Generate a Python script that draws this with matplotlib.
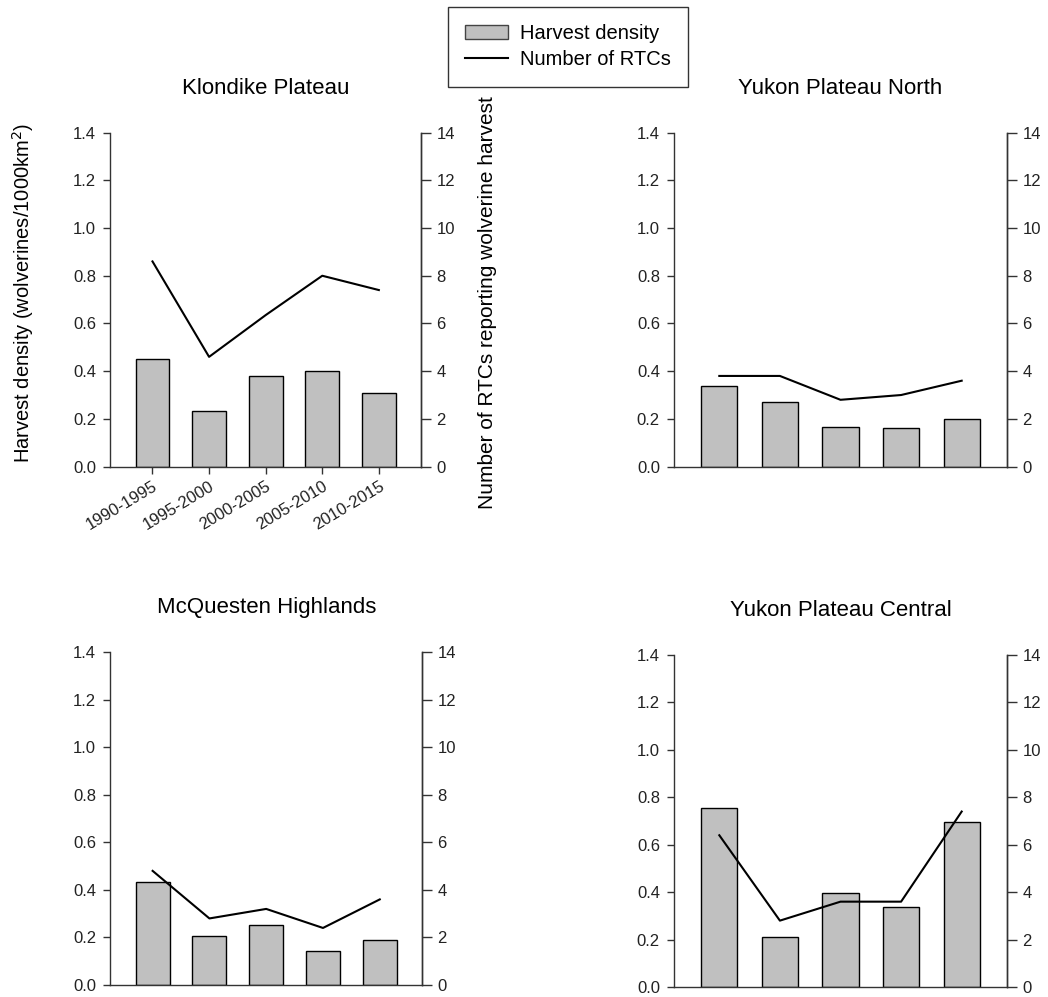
import matplotlib
matplotlib.use("Agg")
import matplotlib.pyplot as plt
from matplotlib.patches import Patch
from matplotlib.lines import Line2D
import numpy as np

plt.rcParams["font.family"] = ["Liberation Sans", "DejaVu Sans"]

periods = ["1990-1995", "1995-2000", "2000-2005", "2005-2010", "2010-2015"]
regions = ["Klondike Plateau", "Yukon Plateau North",
           "McQuesten Highlands", "Yukon Plateau Central"]

# harvest density (wolverines / 1000 km2) per 5-year period
density_klondike = [0.45, 0.234, 0.38, 0.40, 0.31]
density_ypn = [0.339, 0.27, 0.167, 0.16, 0.20]
density_mcq = [0.433, 0.206, 0.252, 0.143, 0.189]
density_ypc = [0.753, 0.211, 0.395, 0.336, 0.695]

# number of RTCs reporting wolverine harvest
rtc_klondike = [8.6, 4.6, 6.35, 8.0, 7.4]
rtc_ypn = [3.8, 3.8, 2.8, 3.0, 3.6]
rtc_mcq = [4.8, 2.8, 3.2, 2.4, 3.6]
rtc_ypc = [6.4, 2.8, 3.6, 3.6, 7.4]

densities = [density_klondike, density_ypn, density_mcq, density_ypc]
rtcs = [rtc_klondike, rtc_ypn, rtc_mcq, rtc_ypc]

BAR = "#c0c0c0"
AXC = "#333333"

fig = plt.figure(figsize=(10.48, 9.97), dpi=100)

# axes boxes [left, bottom, width, height] in figure fractions
boxes = [
    [0.105, 0.532, 0.297, 0.335],
    [0.643, 0.532, 0.318, 0.335],
    [0.105, 0.012, 0.298, 0.334],
    [0.643, 0.010, 0.318, 0.333],
]

x = np.arange(len(periods))
for i, (name, dens, rtc, box) in enumerate(zip(regions, densities, rtcs, boxes)):
    ax = fig.add_axes(box)
    ax.bar(x, dens, width=0.6, color=BAR, edgecolor="black", linewidth=1.0, zorder=2)
    ax.set_xlim(-0.75, 4.75)
    ax.set_ylim(0, 1.4)
    ax.set_yticks(np.arange(0, 1.41, 0.2))
    ax.set_yticklabels([f"{v:.1f}" for v in np.arange(0, 1.41, 0.2)])
    ax.spines["top"].set_visible(False)
    for s in ("left", "right", "bottom"):
        ax.spines[s].set_color(AXC)
        ax.spines[s].set_linewidth(1.0)
    ax.tick_params(axis="y", direction="out", length=5, width=1, color=AXC,
                   pad=5, labelsize=12, labelcolor="#222222")
    if i == 0:
        ax.set_xticks(x)
        ax.set_xticklabels(periods, rotation=31, ha="right",
                           rotation_mode="anchor", fontsize=12, color="#222222")
        ax.tick_params(axis="x", direction="out", length=5, width=1, color=AXC)
    else:
        ax.set_xticks([])
    ax.set_title(name, fontsize=16, pad=28)

    ax2 = ax.twinx()
    ax2.plot(x, rtc, color="black", linewidth=1.5, zorder=3)
    ax2.set_ylim(0, 14)
    ax2.set_yticks(range(0, 15, 2))
    ax2.spines["top"].set_visible(False)
    ax2.spines["left"].set_visible(False)
    ax2.spines["bottom"].set_visible(False)
    ax2.spines["right"].set_color(AXC)
    ax2.spines["right"].set_linewidth(1.0)
    ax2.tick_params(axis="y", direction="out", length=7, width=1, color=AXC,
                    pad=4, labelsize=12, labelcolor="#222222")

fig.text(0.022, 0.706, "Harvest density (wolverines/1000km$^2$)",
         rotation=90, ha="center", va="center", fontsize=14.5)
fig.text(0.4647, 0.697, "Number of RTCs reporting wolverine harvest",
         rotation=90, ha="center", va="center", fontsize=15)

handles = [Patch(facecolor=BAR, edgecolor="#444444", linewidth=1.0),
           Line2D([0], [0], color="black", linewidth=1.5)]
leg = fig.legend(handles, ["Harvest density", "Number of RTCs"],
                 loc="center", bbox_to_anchor=(0.542, 0.953), fontsize=14.5,
                 frameon=True, fancybox=False, edgecolor="black",
                 handlelength=2.1, handletextpad=0.6, labelspacing=0.35,
                 borderpad=0.85)
leg.get_frame().set_linewidth(1.0)

fig.savefig("out.png", dpi=100, facecolor="white")
